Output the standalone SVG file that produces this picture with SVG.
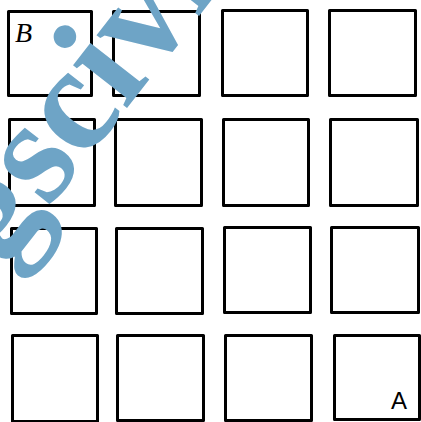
<svg xmlns="http://www.w3.org/2000/svg" width="421" height="422" viewBox="0 0 421 422">
<style>
.sq{fill:none;stroke:#000;stroke-width:3;stroke-linejoin:round}
.lbl{fill:#000}
.wm{fill:#6ea4c6;font-family:"Liberation Serif","Times New Roman",serif;font-size:150px;font-weight:bold}
</style>
<rect width="421" height="422" fill="#fff"/>
<g id="r1c1"><rect class="sq" x="8.5" y="11.5" width="83" height="84"/></g>
<g id="r1c2"><rect class="sq" x="113.5" y="11.5" width="86" height="84"/></g>
<g id="r1c3"><rect class="sq" x="222.5" y="10.5" width="85" height="85"/></g>
<g id="r1c4"><rect class="sq" x="329.5" y="10.5" width="86" height="85"/></g>
<g id="r2c1"><rect class="sq" x="9.5" y="119.5" width="85" height="86"/></g>
<g id="r2c2"><rect class="sq" x="115.5" y="119.5" width="86" height="86"/></g>
<g id="r2c3"><rect class="sq" x="223.5" y="119.5" width="85" height="86"/></g>
<g id="r2c4"><rect class="sq" x="330.5" y="119.5" width="87" height="86"/></g>
<g id="r3c1"><rect class="sq" x="11.5" y="228.5" width="85" height="85"/></g>
<g id="r3c2"><rect class="sq" x="116.5" y="228.5" width="86" height="85"/></g>
<g id="r3c3"><rect class="sq" x="224.5" y="227.5" width="86" height="85"/></g>
<g id="r3c4"><rect class="sq" x="331.5" y="227.5" width="87" height="85"/></g>
<g id="r4c1"><rect class="sq" x="12.5" y="335.5" width="85" height="86"/></g>
<g id="r4c2"><rect class="sq" x="117.5" y="335.5" width="86" height="85"/></g>
<g id="r4c3"><rect class="sq" x="225.5" y="335.5" width="86" height="85"/></g>
<g id="r4c4"><rect class="sq" x="334.5" y="335.5" width="85" height="84"/></g>
<g id="labelB"><text class="lbl" x="15" y="42" font-family="Liberation Serif, serif" font-style="italic" font-size="28">B</text></g>
<g id="labelA"><text class="lbl" x="391" y="409" font-family="Liberation Sans, sans-serif" font-size="24">A</text></g>
<g id="watermark"><text class="wm" transform="translate(2,268) rotate(-52)">gscivil</text></g>
</svg>
